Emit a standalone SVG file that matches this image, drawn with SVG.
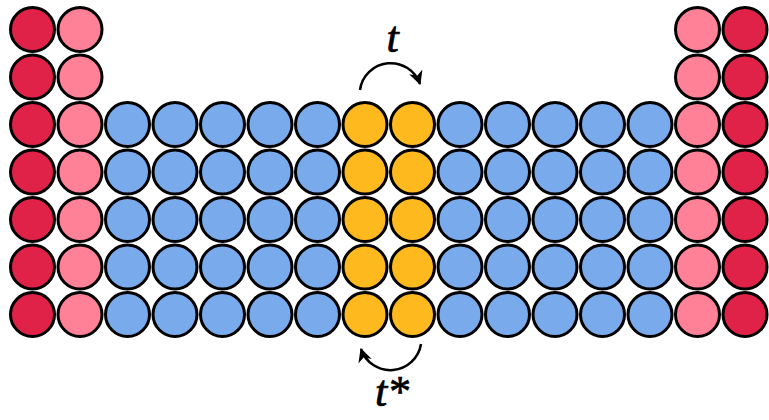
<svg xmlns="http://www.w3.org/2000/svg" width="769" height="420" viewBox="0 0 769 420">
<style>
circle{stroke:#000;stroke-width:3}
.r{fill:#E02249}.p{fill:#FF8197}.b{fill:#79AAEB}.y{fill:#FDB91D}
.lbl{font-family:"Liberation Serif","Times New Roman",serif;font-style:italic;font-size:44px;fill:#000;stroke:#000;stroke-width:0.7;text-anchor:middle}
.arc{fill:none;stroke:#000;stroke-width:2.5}
</style>
<defs>
<marker id="ah" markerUnits="userSpaceOnUse" viewBox="0 0 12 12" markerWidth="14" markerHeight="14" refX="11" refY="6" orient="auto">
<path d="M0,0 L12,6 L0,12 L3.5,6 z" fill="#000"/>
</marker>
</defs>
<g id="connectors">
<path class="arc" d="M360,90 A31,31 0 0 1 420,84" marker-end="url(#ah)"/>
<path class="arc" d="M421,344 A31,31 0 0 1 361,349" marker-end="url(#ah)"/>
</g>
<g id="labels">
<text class="lbl" x="392.5" y="52">t</text>
<text class="lbl" x="392" y="406">t*</text>
</g>
<g id="n-0-0"><circle class="r" cx="32.5" cy="29.5" r="22"/></g>
<g id="n-0-1"><circle class="r" cx="32.5" cy="77" r="22"/></g>
<g id="n-0-2"><circle class="r" cx="32.5" cy="124.5" r="22"/></g>
<g id="n-0-3"><circle class="r" cx="32.5" cy="172" r="22"/></g>
<g id="n-0-4"><circle class="r" cx="32.5" cy="219.5" r="22"/></g>
<g id="n-0-5"><circle class="r" cx="32.5" cy="267" r="22"/></g>
<g id="n-0-6"><circle class="r" cx="32.5" cy="314.5" r="22"/></g>
<g id="n-1-0"><circle class="p" cx="80" cy="29.5" r="22"/></g>
<g id="n-1-1"><circle class="p" cx="80" cy="77" r="22"/></g>
<g id="n-1-2"><circle class="p" cx="80" cy="124.5" r="22"/></g>
<g id="n-1-3"><circle class="p" cx="80" cy="172" r="22"/></g>
<g id="n-1-4"><circle class="p" cx="80" cy="219.5" r="22"/></g>
<g id="n-1-5"><circle class="p" cx="80" cy="267" r="22"/></g>
<g id="n-1-6"><circle class="p" cx="80" cy="314.5" r="22"/></g>
<g id="n-14-0"><circle class="p" cx="697.5" cy="29.5" r="22"/></g>
<g id="n-14-1"><circle class="p" cx="697.5" cy="77" r="22"/></g>
<g id="n-14-2"><circle class="p" cx="697.5" cy="124.5" r="22"/></g>
<g id="n-14-3"><circle class="p" cx="697.5" cy="172" r="22"/></g>
<g id="n-14-4"><circle class="p" cx="697.5" cy="219.5" r="22"/></g>
<g id="n-14-5"><circle class="p" cx="697.5" cy="267" r="22"/></g>
<g id="n-14-6"><circle class="p" cx="697.5" cy="314.5" r="22"/></g>
<g id="n-15-0"><circle class="r" cx="745" cy="29.5" r="22"/></g>
<g id="n-15-1"><circle class="r" cx="745" cy="77" r="22"/></g>
<g id="n-15-2"><circle class="r" cx="745" cy="124.5" r="22"/></g>
<g id="n-15-3"><circle class="r" cx="745" cy="172" r="22"/></g>
<g id="n-15-4"><circle class="r" cx="745" cy="219.5" r="22"/></g>
<g id="n-15-5"><circle class="r" cx="745" cy="267" r="22"/></g>
<g id="n-15-6"><circle class="r" cx="745" cy="314.5" r="22"/></g>
<g id="n-2-2"><circle class="b" cx="127.5" cy="124.5" r="22"/></g>
<g id="n-2-3"><circle class="b" cx="127.5" cy="172" r="22"/></g>
<g id="n-2-4"><circle class="b" cx="127.5" cy="219.5" r="22"/></g>
<g id="n-2-5"><circle class="b" cx="127.5" cy="267" r="22"/></g>
<g id="n-2-6"><circle class="b" cx="127.5" cy="314.5" r="22"/></g>
<g id="n-3-2"><circle class="b" cx="175" cy="124.5" r="22"/></g>
<g id="n-3-3"><circle class="b" cx="175" cy="172" r="22"/></g>
<g id="n-3-4"><circle class="b" cx="175" cy="219.5" r="22"/></g>
<g id="n-3-5"><circle class="b" cx="175" cy="267" r="22"/></g>
<g id="n-3-6"><circle class="b" cx="175" cy="314.5" r="22"/></g>
<g id="n-4-2"><circle class="b" cx="222.5" cy="124.5" r="22"/></g>
<g id="n-4-3"><circle class="b" cx="222.5" cy="172" r="22"/></g>
<g id="n-4-4"><circle class="b" cx="222.5" cy="219.5" r="22"/></g>
<g id="n-4-5"><circle class="b" cx="222.5" cy="267" r="22"/></g>
<g id="n-4-6"><circle class="b" cx="222.5" cy="314.5" r="22"/></g>
<g id="n-5-2"><circle class="b" cx="270" cy="124.5" r="22"/></g>
<g id="n-5-3"><circle class="b" cx="270" cy="172" r="22"/></g>
<g id="n-5-4"><circle class="b" cx="270" cy="219.5" r="22"/></g>
<g id="n-5-5"><circle class="b" cx="270" cy="267" r="22"/></g>
<g id="n-5-6"><circle class="b" cx="270" cy="314.5" r="22"/></g>
<g id="n-6-2"><circle class="b" cx="317.5" cy="124.5" r="22"/></g>
<g id="n-6-3"><circle class="b" cx="317.5" cy="172" r="22"/></g>
<g id="n-6-4"><circle class="b" cx="317.5" cy="219.5" r="22"/></g>
<g id="n-6-5"><circle class="b" cx="317.5" cy="267" r="22"/></g>
<g id="n-6-6"><circle class="b" cx="317.5" cy="314.5" r="22"/></g>
<g id="n-7-2"><circle class="y" cx="365" cy="124.5" r="22"/></g>
<g id="n-7-3"><circle class="y" cx="365" cy="172" r="22"/></g>
<g id="n-7-4"><circle class="y" cx="365" cy="219.5" r="22"/></g>
<g id="n-7-5"><circle class="y" cx="365" cy="267" r="22"/></g>
<g id="n-7-6"><circle class="y" cx="365" cy="314.5" r="22"/></g>
<g id="n-8-2"><circle class="y" cx="412.5" cy="124.5" r="22"/></g>
<g id="n-8-3"><circle class="y" cx="412.5" cy="172" r="22"/></g>
<g id="n-8-4"><circle class="y" cx="412.5" cy="219.5" r="22"/></g>
<g id="n-8-5"><circle class="y" cx="412.5" cy="267" r="22"/></g>
<g id="n-8-6"><circle class="y" cx="412.5" cy="314.5" r="22"/></g>
<g id="n-9-2"><circle class="b" cx="460" cy="124.5" r="22"/></g>
<g id="n-9-3"><circle class="b" cx="460" cy="172" r="22"/></g>
<g id="n-9-4"><circle class="b" cx="460" cy="219.5" r="22"/></g>
<g id="n-9-5"><circle class="b" cx="460" cy="267" r="22"/></g>
<g id="n-9-6"><circle class="b" cx="460" cy="314.5" r="22"/></g>
<g id="n-10-2"><circle class="b" cx="507.5" cy="124.5" r="22"/></g>
<g id="n-10-3"><circle class="b" cx="507.5" cy="172" r="22"/></g>
<g id="n-10-4"><circle class="b" cx="507.5" cy="219.5" r="22"/></g>
<g id="n-10-5"><circle class="b" cx="507.5" cy="267" r="22"/></g>
<g id="n-10-6"><circle class="b" cx="507.5" cy="314.5" r="22"/></g>
<g id="n-11-2"><circle class="b" cx="555" cy="124.5" r="22"/></g>
<g id="n-11-3"><circle class="b" cx="555" cy="172" r="22"/></g>
<g id="n-11-4"><circle class="b" cx="555" cy="219.5" r="22"/></g>
<g id="n-11-5"><circle class="b" cx="555" cy="267" r="22"/></g>
<g id="n-11-6"><circle class="b" cx="555" cy="314.5" r="22"/></g>
<g id="n-12-2"><circle class="b" cx="602.5" cy="124.5" r="22"/></g>
<g id="n-12-3"><circle class="b" cx="602.5" cy="172" r="22"/></g>
<g id="n-12-4"><circle class="b" cx="602.5" cy="219.5" r="22"/></g>
<g id="n-12-5"><circle class="b" cx="602.5" cy="267" r="22"/></g>
<g id="n-12-6"><circle class="b" cx="602.5" cy="314.5" r="22"/></g>
<g id="n-13-2"><circle class="b" cx="650" cy="124.5" r="22"/></g>
<g id="n-13-3"><circle class="b" cx="650" cy="172" r="22"/></g>
<g id="n-13-4"><circle class="b" cx="650" cy="219.5" r="22"/></g>
<g id="n-13-5"><circle class="b" cx="650" cy="267" r="22"/></g>
<g id="n-13-6"><circle class="b" cx="650" cy="314.5" r="22"/></g>
</svg>
